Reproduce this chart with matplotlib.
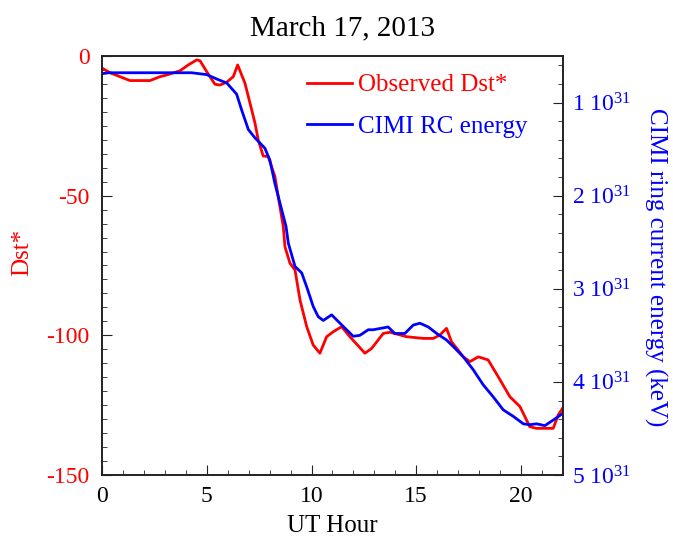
import matplotlib
matplotlib.use('Agg')
from matplotlib import pyplot as plt
from matplotlib.ticker import MultipleLocator, FixedLocator, FuncFormatter

plt.rcParams['font.family'] = ['Liberation Serif', 'DejaVu Serif']
plt.rcParams['mathtext.default'] = 'regular'
plt.rcParams['axes.unicode_minus'] = False

# Observed Dst* (nT) against UT hour
dst_hour = [0, 0.37, 1.32, 2.28, 2.76, 3.08, 3.71, 4.11, 4.51, 4.67, 4.99, 5.38,
            5.62, 5.94, 6.26, 6.47, 6.82, 7.06, 7.3, 7.45, 7.69, 7.93, 8.25, 8.49,
            8.65, 8.73, 8.97, 9.21, 9.45, 9.77, 10.08, 10.4, 10.72, 11.04, 11.44,
            11.83, 12.2, 12.55, 12.87, 13.43, 13.75, 14.55, 15.34, 15.82, 16.13,
            16.45, 16.69, 17.01, 17.25, 17.57, 17.97, 18.44, 18.92, 19.48, 19.96,
            20.43, 20.75, 21.55, 21.79, 22.0]
dst_obs = [-4.4, -6.0, -8.8, -8.8, -7.4, -6.8, -5.3, -3.2, -1.4, -1.7, -5.6, -10.1,
           -10.4, -9.4, -7.4, -3.2, -9.8, -16.9, -24.1, -30.0, -35.8, -36.0, -43.2, -54.0,
           -61.1, -68.3, -74.2, -76.6, -87.4, -96.9, -103.5, -106.4, -100.5, -98.7, -96.9,
           -100.5, -103.5, -106.4, -104.7, -99.3, -98.9, -100.5, -101.1, -101.1, -99.9,
           -97.5, -102.3, -105.3, -107.7, -109.4, -107.7, -108.8, -114.8, -122.0, -125.5,
           -132.7, -133.3, -133.3, -128.5, -126.1]

# CIMI ring current energy, in units of 10^31 keV
cimi_hour = [0, 0.3, 4.27, 4.99, 5.5, 5.95, 6.42, 6.66, 6.98, 7.3, 7.77, 8.01, 8.25,
             8.49, 8.78, 8.89, 9.21, 9.53, 9.77, 10.08, 10.32, 10.56, 10.96, 11.36,
             11.99, 12.31, 12.71, 12.95, 13.66, 13.98, 14.46, 14.86, 15.18, 15.58,
             15.98, 16.45, 16.77, 17.25, 17.73, 18.2, 18.68, 19.16, 19.64, 20.12,
             20.43, 20.75, 21.15, 21.55, 22.0]
cimi_energy = [0.69, 0.68, 0.68, 0.70, 0.75, 0.79, 0.91, 1.08, 1.29, 1.38, 1.49, 1.62,
               1.87, 2.08, 2.33, 2.51, 2.76, 2.83, 2.98, 3.19, 3.30, 3.34, 3.28, 3.37,
               3.51, 3.50, 3.44, 3.44, 3.41, 3.48, 3.48, 3.39, 3.37, 3.41, 3.48, 3.55,
               3.62, 3.73, 3.87, 4.03, 4.16, 4.30, 4.37, 4.45, 4.46, 4.45, 4.47, 4.41,
               4.34]

energy_ticks = [1, 2, 3, 4, 5]

RED = '#ff0000'
BLUE = '#0000ff'

fig = plt.figure(figsize=(6.73, 5.42), dpi=100)
ax = fig.add_axes([0.152, 0.1236, 0.684, 0.7731])
ax2 = ax.twinx()

l1, = ax.plot(dst_hour, dst_obs, color=RED, lw=2, label='Observed Dst*')
l2, = ax2.plot(cimi_hour, cimi_energy, color=BLUE, lw=2, label='CIMI RC energy')

ax.set_xlim(0, 22)
ax.set_ylim(-150, 0)
ax2.set_ylim(5, 0.5)

ax.xaxis.set_major_locator(MultipleLocator(5))
ax.xaxis.set_minor_locator(MultipleLocator(1))
ax.yaxis.set_major_locator(MultipleLocator(50))
ax.yaxis.set_minor_locator(MultipleLocator(5))
ax2.yaxis.set_major_locator(FixedLocator(energy_ticks))
ax2.yaxis.set_minor_locator(MultipleLocator(0.2))
ax2.yaxis.set_major_formatter(FuncFormatter(lambda v, pos: '%d 10$^{31}$' % round(v)))

for a in (ax, ax2):
    for sp in a.spines.values():
        sp.set_color('#222222')
        sp.set_linewidth(1.2)

ax.tick_params(axis='x', which='both', direction='in', top=False, labelsize=17,
               pad=8, colors='#222222', labelcolor='black')
ax.tick_params(axis='x', which='major', length=7)
ax.tick_params(axis='x', which='minor', length=3.5)
ax.tick_params(axis='y', which='both', direction='in', right=False, labelsize=17,
               pad=9, colors='#222222', labelcolor=RED)
ax.tick_params(axis='y', which='major', length=7)
ax.tick_params(axis='y', which='minor', length=3.5)
ax2.tick_params(axis='y', which='both', direction='in', labelsize=17,
                pad=7, colors='#222222', labelcolor=BLUE)
ax2.tick_params(axis='y', which='major', length=7)
ax2.tick_params(axis='y', which='minor', length=3.5)

ax.set_xlabel('UT Hour', fontsize=18, labelpad=6)
ax.set_ylabel('Dst*', fontsize=18, color=RED)
ax.yaxis.set_label_coords(-0.1505, 0.532)
ax2.set_ylabel('CIMI ring current energy (keV)', fontsize=18, color=BLUE,
               rotation=270, va='center')
ax2.yaxis.set_label_coords(1.2026, 0.495)

ax.set_title('March 17, 2013', fontsize=21, x=0.5215, pad=15)

ax2.legend(handles=[l1, l2], loc='center left', bbox_to_anchor=(0.444, 0.881),
           frameon=False, fontsize=18, labelcolor='linecolor', borderpad=0,
           borderaxespad=0, handlelength=1.8, handletextpad=0.25, labelspacing=0.75)

fig.savefig('out.png', dpi=100)
